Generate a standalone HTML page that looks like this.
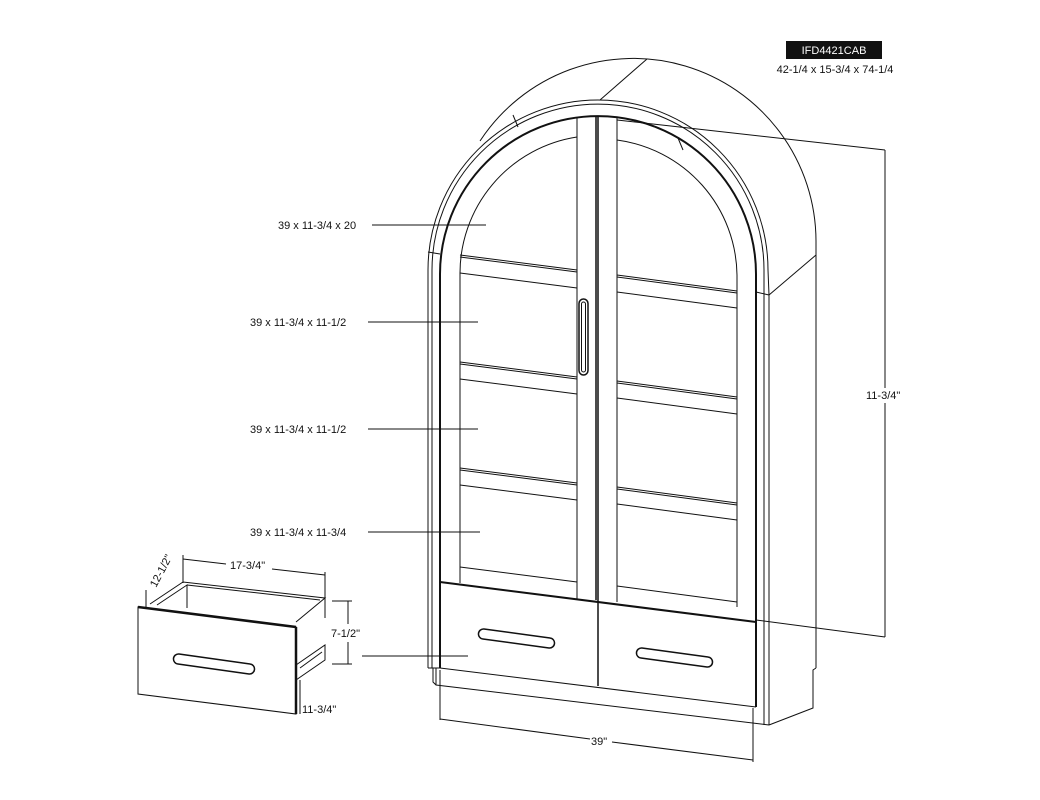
<!DOCTYPE html>
<html><head><meta charset="utf-8"><style>
html,body{margin:0;padding:0;background:#fff;}
svg{display:block}
text{font-family:"Liberation Sans",Arial,sans-serif;font-size:11px;fill:#111}
</style></head><body>
<svg width="1040" height="800" viewBox="0 0 1040 800" xmlns="http://www.w3.org/2000/svg">
<g fill="none" stroke="#111" stroke-width="1">
<!-- back arch / side -->
<path d="M480,141 A183,183 0 0 1 816,241 L816,668"/>
<line x1="600" y1="100" x2="647" y2="59"/>
<line x1="769" y1="295" x2="816" y2="255"/>
<path d="M816,668 L813,670 L813,708 L769,725"/>
<!-- front outer arch -->
<path d="M428,668 L428,270 A170,170 0 0 1 768,270 L769,295 L769,725"/>
<path d="M432,668 L432,270 A166,166 0 0 1 764,270 L764,725"/>
<path d="M440,668 L440,274 A158,158 0 0 1 756,274 L756,707" stroke-width="2"/>
<line x1="428" y1="252" x2="440" y2="254"/>
<line x1="756" y1="292" x2="769" y2="295"/>
<line x1="513" y1="115" x2="518" y2="127"/>
<line x1="678" y1="138" x2="683" y2="150"/>
<!-- glass arch -->
<path d="M460,583 L460,275 A138,138 0 0 1 577,137"/>
<path d="M617,140 A138,138 0 0 1 737,275 L737,607"/>
<!-- stiles -->
<line x1="577" y1="118" x2="577" y2="600"/>
<line x1="596" y1="116" x2="596" y2="600" stroke-width="1.5"/>
<line x1="598" y1="116" x2="598" y2="686" stroke-width="1.5"/>
<line x1="617" y1="117" x2="617" y2="602"/>
<!-- shelves left -->
<line x1="460" y1="255" x2="577" y2="270"/><line x1="460" y1="257" x2="577" y2="272"/>
<line x1="460" y1="273" x2="577" y2="288"/>
<line x1="460" y1="362" x2="577" y2="377"/><line x1="460" y1="364" x2="577" y2="379"/>
<line x1="460" y1="379" x2="577" y2="394"/>
<line x1="460" y1="468" x2="577" y2="483"/><line x1="460" y1="470" x2="577" y2="485"/>
<line x1="460" y1="485" x2="577" y2="500"/>
<line x1="460" y1="567" x2="577" y2="582"/>
<!-- shelves right -->
<line x1="617" y1="275" x2="737" y2="291"/><line x1="617" y1="277" x2="737" y2="293"/>
<line x1="617" y1="292" x2="737" y2="308"/>
<line x1="617" y1="381" x2="737" y2="397"/><line x1="617" y1="383" x2="737" y2="399"/>
<line x1="617" y1="398" x2="737" y2="414"/>
<line x1="617" y1="487" x2="737" y2="503"/><line x1="617" y1="489" x2="737" y2="505"/>
<line x1="617" y1="504" x2="737" y2="520"/>
<line x1="617" y1="586" x2="737" y2="602"/>
<!-- vertical handle -->
<rect x="579" y="299" width="9" height="76" rx="4.5" stroke-width="1.5"/>
<rect x="581.5" y="302" width="4" height="70" rx="2"/>
<!-- drawers -->
<line x1="440" y1="582" x2="756" y2="622" stroke-width="2"/>
<line x1="440" y1="668" x2="756" y2="707"/>
<line x1="428" y1="668" x2="440" y2="668"/>
<path d="M433,668 L433,682 L436,685 L769,725"/>
<line x1="436" y1="685" x2="436" y2="668"/>
<g stroke-width="1.5">
<path d="M484,629 L550,638 A5,5 0 0 1 549,648 L483,639 A5,5 0 0 1 484,629 Z"/>
<path d="M642,648 L708,657 A5,5 0 0 1 707,667 L641,658 A5,5 0 0 1 642,648 Z"/>
<path d="M179,654 L250,664 A5,5 0 0 1 249,674 L178,664 A5,5 0 0 1 179,654 Z"/>
</g>
<!-- dimension right -->
<line x1="617" y1="120" x2="885" y2="150"/>
<line x1="885" y1="150" x2="885" y2="388"/>
<line x1="885" y1="403" x2="885" y2="637"/>
<line x1="756" y1="620" x2="885" y2="637"/>
<!-- dimension bottom -->
<line x1="440" y1="670" x2="440" y2="720"/>
<line x1="753" y1="708" x2="753" y2="762"/>
<line x1="440" y1="719" x2="590" y2="739"/>
<line x1="612" y1="742" x2="753" y2="760"/>
<!-- leaders -->
<line x1="372" y1="225" x2="486" y2="225"/>
<line x1="368" y1="322" x2="478" y2="322"/>
<line x1="368" y1="429" x2="478" y2="429"/>
<line x1="368" y1="532" x2="480" y2="532"/>
<line x1="362" y1="656" x2="468" y2="656"/>
<!-- loose drawer -->
<path d="M138,607 L296,627 L296,714 L138,694 Z"/>
<line x1="138" y1="607" x2="296" y2="627" stroke-width="2.5"/>
<line x1="296" y1="627" x2="296" y2="714" stroke-width="2.5"/>
<path d="M150,604 L183,582 L325,598 L296,622"/>
<path d="M157,605 L187,585 L187,608"/>
<line x1="187" y1="585" x2="320" y2="600"/>
<line x1="325" y1="598" x2="325" y2="618"/>
<path d="M296,665 L325,645 L325,660 L296,680"/>
<line x1="300" y1="668" x2="322" y2="652"/>
<line x1="300" y1="680" x2="300" y2="714"/>
<line x1="183" y1="555" x2="183" y2="583"/>
<line x1="325" y1="572" x2="325" y2="598"/>
<line x1="183" y1="559" x2="226" y2="564"/>
<line x1="272" y1="569" x2="325" y2="575"/>
<line x1="332" y1="601" x2="352" y2="601"/>
<line x1="332" y1="664" x2="352" y2="664"/>
<line x1="348" y1="601" x2="348" y2="624"/>
<line x1="348" y1="642" x2="348" y2="664"/>
<line x1="146" y1="590" x2="146" y2="607"/>
</g>
<rect x="786" y="41" width="96" height="18" fill="#111"/>
<text x="834" y="54" text-anchor="middle" style="fill:#fff">IFD4421CAB</text>
<text x="835" y="73" text-anchor="middle">42-1/4 x 15-3/4 x 74-1/4</text>
<text x="278" y="229">39 x 11-3/4 x 20</text>
<text x="250" y="326">39 x 11-3/4 x 11-1/2</text>
<text x="250" y="433">39 x 11-3/4 x 11-1/2</text>
<text x="250" y="536">39 x 11-3/4 x 11-3/4</text>
<text x="866" y="399">11-3/4"</text>
<text x="591" y="745">39"</text>
<text x="230" y="569">17-3/4"</text>
<text x="331" y="637">7-1/2"</text>
<text x="302" y="713">11-3/4"</text>
<text x="0" y="0" transform="translate(156,588) rotate(-62)">12-1/2"</text>
</svg>
</body></html>
